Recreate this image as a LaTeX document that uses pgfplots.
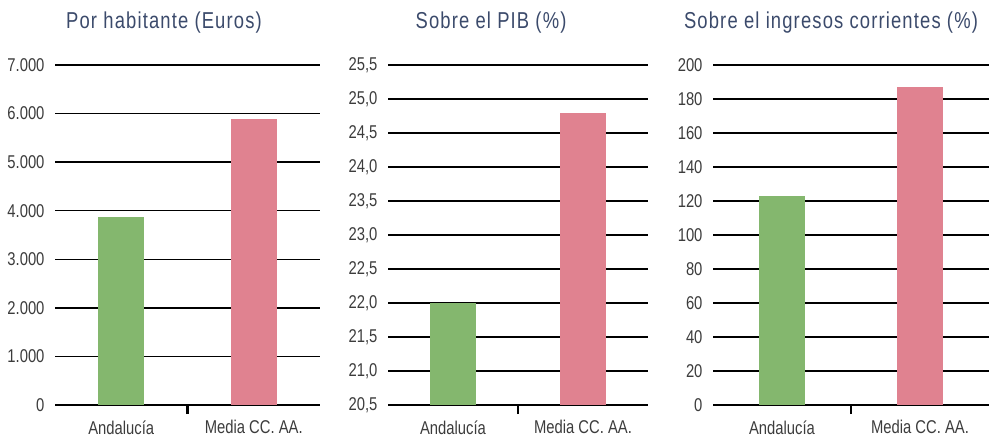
\documentclass[border=0pt]{standalone}
\usepackage{pgfplots}
\pgfplotsset{compat=1.18}
\usepackage{fontspec}
\setmainfont{Liberation Sans}[FakeStretch=0.8]
\newfontfamily\titlefont{Liberation Sans}[FakeStretch=0.8,LetterSpace=5]
\definecolor{cgreen}{HTML}{84B76E}
\definecolor{cpink}{HTML}{E08290}
\definecolor{ctitle}{HTML}{3B4A6B}
\definecolor{clabel}{HTML}{3C3C3C}
\pgfplotsset{
  panel/.style={
    scale only axis, height=340pt,
    ybar, bar width=46pt,
    xmin=-0.5, xmax=1.5,
    xtick={0,1}, xticklabels={Andalucía, Media CC.\ AA.},
    axis y line*=left,
    y axis line style={draw=none},
    axis x line*=bottom,
    x axis line style={line width=2.5pt, black, -},
    ymajorgrids, major grid style={line width=1.3pt, black},
    major tick length=0pt,
    extra x ticks={0.5}, extra x tick labels={},
    extra x tick style={major tick length=9pt, tick align=outside, tick style={line width=2.5pt, black}, xmajorgrids=false},
    ytick style={draw=none},
    /pgf/number format/assume math mode=true,
    tick label style={font=\fontsize{18.5}{21}\selectfont, text=clabel},
    yticklabel style={anchor=east, xshift=-7pt},
    xticklabel style={yshift=-12pt},
    enlargelimits=false,
    clip=true,
  }
}
\begin{document}
\begin{tikzpicture}[x=1pt,y=1pt]
\useasboundingbox (0,0) rectangle (993,440);
% Panel 1
\begin{axis}[panel, at={(55pt,35pt)}, anchor=south west, width=265pt,
  ymin=0, ymax=7000, ytick={0,1000,...,7000},
  /pgf/number format/.cd, 1000 sep={.}]
\addplot[fill=cgreen, draw=none, bar shift=0pt] coordinates {(0,3870)};
\addplot[fill=cpink, draw=none, bar shift=0pt] coordinates {(1,5880)};
\end{axis}
% Panel 2
\begin{axis}[panel, at={(388pt,35pt)}, anchor=south west, width=260pt,
  ymin=20.5, ymax=25.5, ytick={20.5,21,21.5,22,22.5,23,23.5,24,24.5,25,25.5},
  yticklabel style={/pgf/number format/.cd, fixed, fixed zerofill, precision=1, use comma}]
\addplot[fill=cgreen, draw=none, bar shift=0pt] coordinates {(0,22.0)};
\addplot[fill=cpink, draw=none, bar shift=0pt] coordinates {(1,24.8)};
\end{axis}
% Panel 3
\begin{axis}[panel, at={(713pt,35pt)}, anchor=south west, width=276pt,
  ymin=0, ymax=200, ytick={0,20,...,200}]
\addplot[fill=cgreen, draw=none, bar shift=0pt] coordinates {(0,123)};
\addplot[fill=cpink, draw=none, bar shift=0pt] coordinates {(1,187)};
\end{axis}
\node[text=ctitle, font=\titlefont\fontsize{23}{26}\selectfont] at (164,417) {Por habitante (Euros)};
\node[text=ctitle, font=\titlefont\fontsize{23}{26}\selectfont] at (491,417) {Sobre el PIB (\%)};
\node[text=ctitle, font=\titlefont\fontsize{23}{26}\selectfont] at (831,417) {Sobre el ingresos corrientes (\%)};
\end{tikzpicture}
\end{document}
